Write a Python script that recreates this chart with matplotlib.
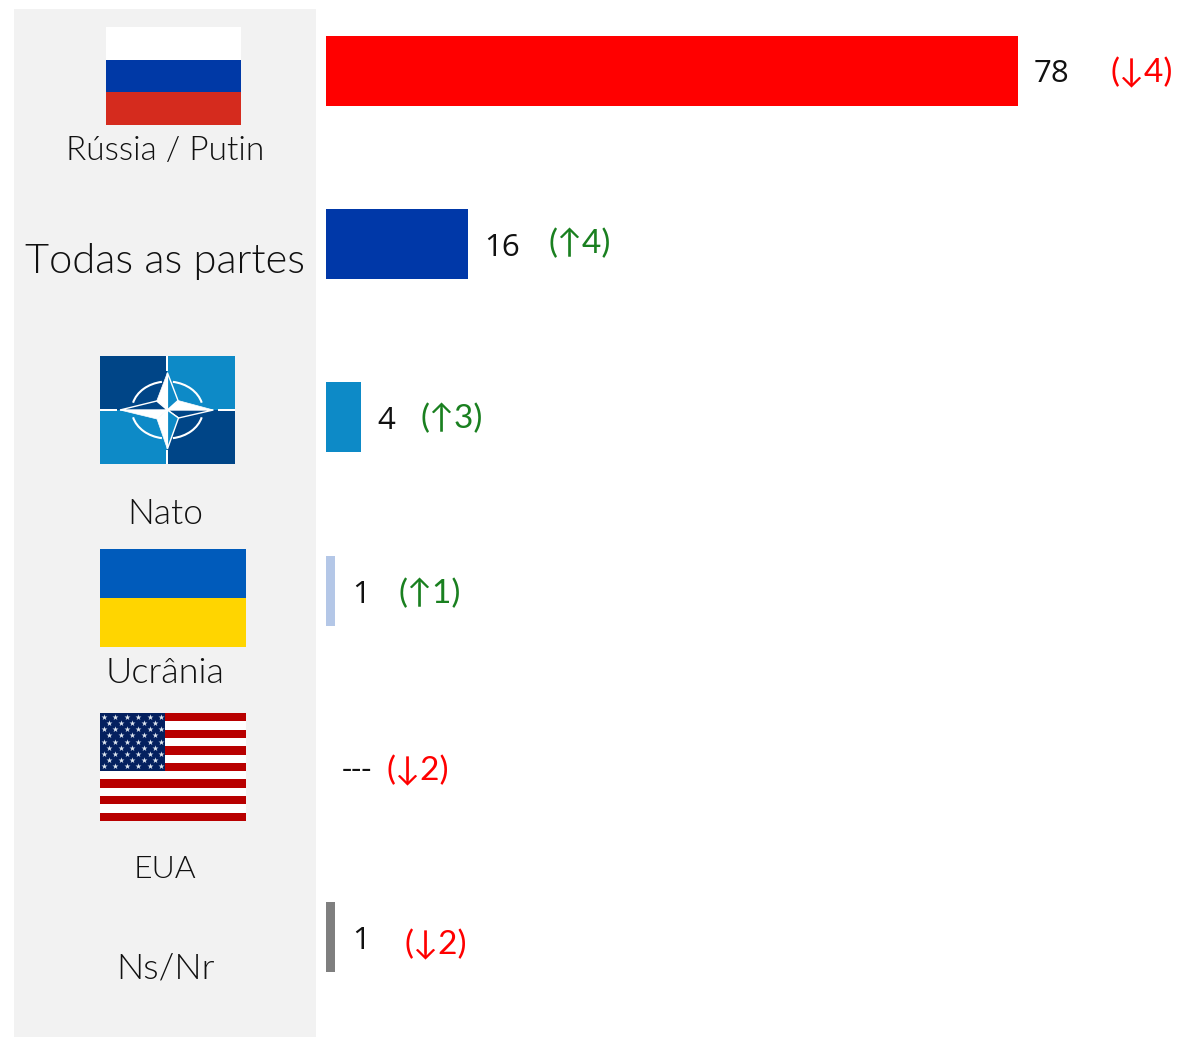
import matplotlib
matplotlib.use('Agg')
import matplotlib.pyplot as plt
from matplotlib.patches import Rectangle, Polygon, Arc

W, H = 1178, 1037

categories = ['Rússia / Putin', 'Todas as partes', 'Nato', 'Ucrânia', 'EUA', 'Ns/Nr']
values = [78, 16, 4, 1, 0, 1]
value_labels = ['78', '16', '4', '1', '---', '1']
changes = ['(↓4)', '(↑4)', '(↑3)', '(↑1)', '(↓2)', '(↓2)']
bar_colors = ['#ff0000', '#0038a8', '#0d8ac7', '#b4c7e7', '#ffffff', '#7f7f7f']

# pixel layout of the left panel and labels
label_y = [151, 261, 514, 673, 869, 968]
label_size = [24, 30, 25.5, 26, 23, 26]
value_y = [74, 248, 421, 595, 770, 941]
value_pad = [16, 16, 16, 17, 16, 17]
change_x = [1110, 548, 420, 398, 386, 404]
change_y = [73, 244, 419, 594, 771, 945]

label_font = ['Lato', 'DejaVu Sans']
value_font = ['Open Sans', 'DejaVu Sans']
change_font = ['Lato', 'DejaVu Sans']


def rect(ax, x0, y0, x1, y1, color):
	ax.add_patch(Rectangle((x0, y0), x1 - x0, y1 - y0, facecolor=color, edgecolor='none'))


def flag_russia(ax):
	rect(ax, 106, 27, 241, 60, '#ffffff')
	rect(ax, 106, 60, 241, 92, '#0039a6')
	rect(ax, 106, 92, 241, 125, '#d52b1e')


def flag_ukraine(ax):
	rect(ax, 100, 549, 246, 598, '#005bbb')
	rect(ax, 100, 598, 246, 647, '#ffd500')


def flag_usa(ax):
	x0, x1, y0 = 100, 246, 713
	step = 108 / 13
	rect(ax, x0, y0, x1, 821, '#ffffff')
	for i in range(0, 13, 2):
		rect(ax, x0, y0 + i * step, x1, y0 + (i + 1) * step, '#b80000')
	rect(ax, x0, y0, 165, y0 + 58, '#04205f')
	xs, ys = [], []
	for r in range(9):
		cols = 6 if r % 2 == 0 else 5
		for c in range(cols):
			xs.append(103.7 + c * 11.5 + (0 if r % 2 == 0 else 5.75))
			ys.append(716.7 + r * 6.2)
	ax.scatter(xs, ys, marker='*', s=20, color='#dfe7f0', linewidths=0)


def flag_nato(ax):
	dark, light = '#004587', '#0d8ac7'
	cx, cy = 167.4, 410
	rect(ax, 100, 356, cx, cy, dark)
	rect(ax, cx, 356, 235, cy, light)
	rect(ax, 100, cy, cx, 464, light)
	rect(ax, cx, cy, 235, 464, dark)
	# white rays outside the star
	rect(ax, cx - 1, 356, cx + 1, 371, '#ffffff')
	rect(ax, cx - 1, 450, cx + 1, 464, '#ffffff')
	rect(ax, 100, cy - 1, 117, cy + 1, '#ffffff')
	rect(ax, 218, cy - 1, 235, cy + 1, '#ffffff')
	# ring, broken by the star points
	for a, b in [(12, 79), (101, 168), (192, 259), (281, 348)]:
		ax.add_patch(Arc((cx, cy), 71, 57, theta1=a, theta2=b, color='#ffffff', lw=1.5))
	# compass star: one half of each point white, the other filled with a white edge
	top, bottom, left, right = (cx, 372.7), (cx, 449), (120, cy), (213.3, cy)
	tl, tr, br, bl = (156.7, 401), (178, 400.5), (178.5, 418), (157, 419)
	c = (cx, cy)
	for pts in [(top, tl, c), (right, tr, c), (bottom, bl, c), (left, bl, c)]:
		ax.add_patch(Polygon(pts, closed=True, facecolor='#ffffff', edgecolor='#ffffff', lw=0.5))
	for pts, color in [((top, tr, c), light), ((right, br, c), dark),
			((bottom, br, c), light), ((left, tl, c), dark)]:
		ax.add_patch(Polygon(pts, closed=True, facecolor=color, edgecolor='#ffffff', lw=1.0))


fig = plt.figure(figsize=(W / 100, H / 100), dpi=100, facecolor='white')

# background axes in image pixels
bg = fig.add_axes([0, 0, 1, 1])
bg.set_xlim(0, W)
bg.set_ylim(H, 0)
bg.axis('off')
rect(bg, 14, 9, 316, 1037, '#f2f2f2')
flag_russia(bg)
flag_nato(bg)
flag_ukraine(bg)
flag_usa(bg)

for name, y, size in zip(categories, label_y, label_size):
	bg.text(165, y, name, ha='center', va='center', fontsize=size, family=label_font,
		fontweight=300, color='#111111')

# bar axes: left edge at x=326, 8.87 px per point, rows 173.2 px apart
left, row, per_unit = 326, 173.2, 8.87
top = 71 - row / 2
ax = fig.add_axes([left / W, 1 - (top + row * 6) / H, (W - left) / W, row * 6 / H])
ax.patch.set_alpha(0)
ax.set_xlim(0, (W - left) / per_unit)
ax.set_ylim(5.5, -0.5)
ax.axis('off')
ax.barh(range(len(values)), values, height=70 / row, color=bar_colors, linewidth=0)

for i, (val, lab) in enumerate(zip(values, value_labels)):
	bg.text(left + val * per_unit + value_pad[i], value_y[i], lab, ha='left', va='center',
		fontsize=22.5, family=value_font, color='#111111')

for i, txt in enumerate(changes):
	color = '#ff0000' if '↓' in txt else '#1a8020'
	bg.text(change_x[i], change_y[i], txt, ha='left', va='center', fontsize=24,
		family=change_font, color=color)

fig.savefig('out.png', dpi=100)
